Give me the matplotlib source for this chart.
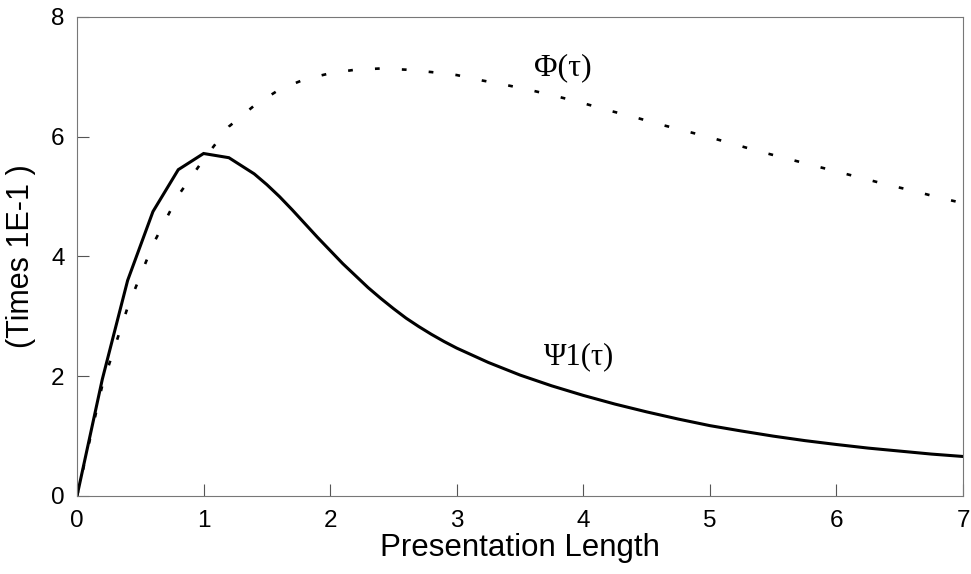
import matplotlib
matplotlib.use("Agg")
import matplotlib.pyplot as plt

# Psi_1(tau), solid curve
psi_x = [0, 0.2, 0.4, 0.6, 0.8, 1.0, 1.2, 1.4, 1.5, 1.6, 1.7, 1.8, 1.9, 2.0,
         2.1, 2.2, 2.3, 2.4, 2.5, 2.6, 2.7, 2.8, 2.9, 3.0, 3.25, 3.5, 3.75,
         4.0, 4.25, 4.5, 4.75, 5.0, 5.25, 5.5, 5.75, 6.0, 6.25, 6.5, 6.75, 7.0]
psi_y = [0, 1.95, 3.6, 4.75, 5.45, 5.72, 5.65, 5.38, 5.2, 5.0, 4.78, 4.55, 4.32,
         4.1, 3.88, 3.68, 3.48, 3.3, 3.13, 2.97, 2.83, 2.70, 2.58, 2.47, 2.23,
         2.02, 1.84, 1.68, 1.535, 1.405, 1.285, 1.175, 1.085, 1.0, 0.925, 0.86,
         0.80, 0.75, 0.70, 0.66]

# Phi(tau), dotted curve
phi_x = [0, 0.2, 0.4, 0.6, 0.8, 1.0, 1.2, 1.4, 1.6, 1.8, 2.0, 2.2, 2.4, 2.6, 2.8,
         3.0, 3.2, 3.4, 3.6, 3.8, 4.0, 4.2, 4.4, 4.6, 4.8, 5.0, 5.2, 5.4, 5.6, 5.8,
         6.0, 6.2, 6.4, 6.6, 6.8, 7.0]
phi_y = [0, 1.85, 3.15, 4.2, 5.02, 5.62, 6.17, 6.52, 6.79, 6.96, 7.06, 7.12, 7.14,
         7.12, 7.08, 7.03, 6.94, 6.86, 6.77, 6.67, 6.56, 6.44, 6.33, 6.21, 6.10,
         5.99, 5.87, 5.75, 5.64, 5.53, 5.42, 5.31, 5.20, 5.10, 4.99, 4.89]

x_ticks = [0, 1, 2, 3, 4, 5, 6, 7]
y_ticks = [0, 2, 4, 6, 8]

plt.rcParams['font.family'] = ['Liberation Sans', 'DejaVu Sans']

fig = plt.figure(figsize=(9.71, 5.74), dpi=100)
ax = fig.add_axes([0.0793, 0.1359, 0.9125, 0.8345])

ax.plot(psi_x, psi_y, color='black', lw=2.2, solid_joinstyle='miter')
ax.plot(phi_x, phi_y, color='black', lw=1.9, dashes=(1.8, 8.4),
        dash_capstyle='butt')

serif = ['Liberation Serif', 'DejaVu Serif']
ax.text(3.84, 7.16, 'Φ(τ)', family=serif, fontsize=23, ha='center', va='center')
ax.text(3.97, 2.32, 'Ψ1(τ)', family=serif, fontsize=22, ha='center', va='center')

ax.set_xlim(0, 7)
ax.set_ylim(0, 8)
ax.set_xticks(x_ticks)
ax.set_yticks(y_ticks)
ax.tick_params(direction='in', length=8.5, width=0.8, color='#555555',
               labelsize=17.5)
ax.tick_params(axis='x', pad=10)
ax.tick_params(axis='y', pad=9)

for s in ax.spines.values():
    s.set_color('#777777')
    s.set_linewidth(0.8)

ax.set_xlabel('Presentation Length', fontsize=22.5, labelpad=1)
ax.set_ylabel('(Times 1E-1 )', fontsize=22, labelpad=11)

fig.savefig('out.png', dpi=100)
